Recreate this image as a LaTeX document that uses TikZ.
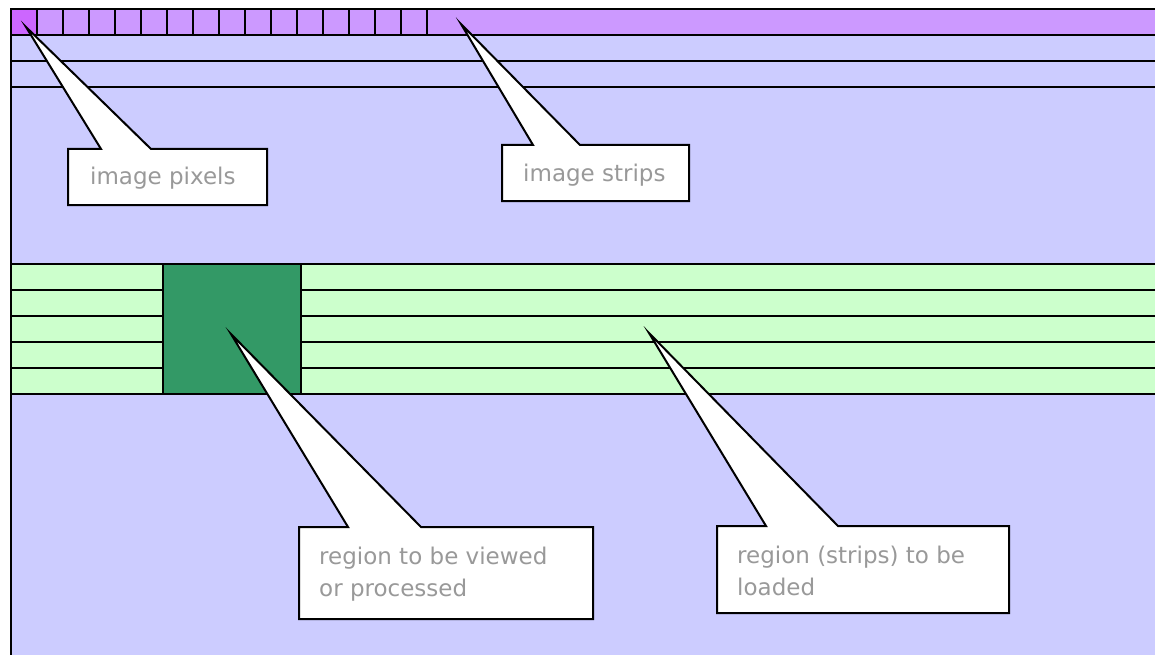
\documentclass[tikz,border=0pt]{standalone}
\usepackage{fontspec}
\setmainfont{DejaVu Sans}
\definecolor{imgbg}{HTML}{CCCCFF}
\definecolor{striptop}{HTML}{CC99FF}
\definecolor{pixfirst}{HTML}{CC66FF}
\definecolor{loadband}{HTML}{CCFFCC}
\definecolor{viewbox}{HTML}{339966}
\definecolor{labelgray}{HTML}{999999}
\tikzset{
  edge/.style={draw=black, line width=2pt},
  callout/.style={fill=white, draw=black, line width=2pt, line join=miter},
  lbl/.style={anchor=base west, inner sep=0pt, text=labelgray, font=\fontsize{23}{32}\selectfont, align=left},
}
\begin{document}
\begin{tikzpicture}[x=1pt, y=-1pt]
\useasboundingbox (0,0) rectangle (1155,655);
\begin{scope}
\clip (0,0) rectangle (1155,655);
% image area and top strip
\fill[imgbg] (11,9) rectangle (1170,670);
\fill[striptop] (11,9) rectangle (1170,35);
% strips to be loaded
\fill[loadband] (11,264) rectangle (1170,394);
\foreach \y in {9,35,61,87,264,290,316,342,368,394}
  \draw[edge] (11,\y) -- (1170,\y);
\draw[edge] (11,9) -- (11,670);
% pixels of the first strip
\fill[pixfirst] (11,9) rectangle (37,35);
\foreach \i in {0,...,15}
  \draw[edge] (11+26*\i,9) rectangle ++(26,26);
% region to be viewed
\draw[edge, fill=viewbox] (163,264) rectangle (301,394);
% callouts
\coordinate (p1) at (26,27);
\coordinate (p2) at (461,24);
\coordinate (p3) at (231,334);
\coordinate (p4) at (649,333);
\draw[callout] (68,149) -- (101,149) -- (p1) -- (151,149) -- (267,149) -- (267,205) -- (68,205) -- cycle;
\draw[callout] (502,145) -- (533,145) -- (p2) -- (580,145) -- (689,145) -- (689,201) -- (502,201) -- cycle;
\draw[callout] (299,527) -- (348,527) -- (p3) -- (421,527) -- (593,527) -- (593,619) -- (299,619) -- cycle;
\draw[callout] (717,526) -- (766,526) -- (p4) -- (838,526) -- (1009,526) -- (1009,613) -- (717,613) -- cycle;
\end{scope}
\node[lbl] (t1) at (90,185) {image pixels};
\node[lbl] (t2) at (523,182) {image strips};
\node[lbl] (t3) at (319,596) {region to be viewed\\or processed};
\node[lbl] (t4) at (737,595) {region (strips) to be\\loaded};
\end{tikzpicture}
\end{document}
